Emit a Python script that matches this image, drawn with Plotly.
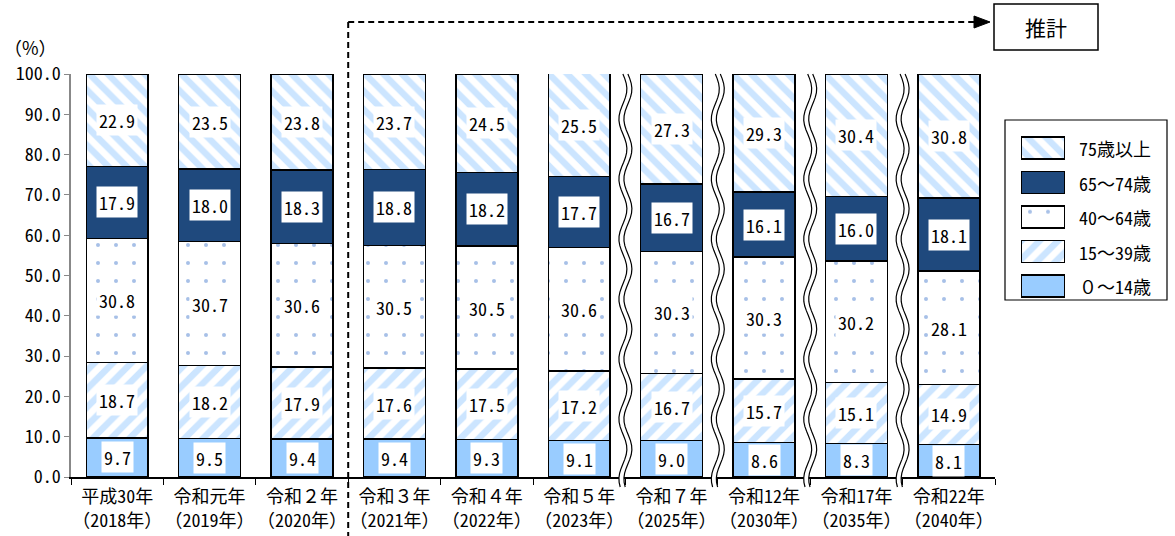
import numpy as np
import plotly.graph_objects as go

categories = ["平成30年<br>（2018年）", "令和元年<br>（2019年）", "令和２年<br>（2020年）",
              "令和３年<br>（2021年）", "令和４年<br>（2022年）", "令和５年<br>（2023年）",
              "令和７年<br>（2025年）", "令和12年<br>（2030年）", "令和17年<br>（2035年）",
              "令和22年<br>（2040年）"]
age_0_14 = [9.7, 9.5, 9.4, 9.4, 9.3, 9.1, 9.0, 8.6, 8.3, 8.1]
age_15_39 = [18.7, 18.2, 17.9, 17.6, 17.5, 17.2, 16.7, 15.7, 15.1, 14.9]
age_40_64 = [30.8, 30.7, 30.6, 30.5, 30.5, 30.6, 30.3, 30.3, 30.2, 28.1]
age_65_74 = [17.9, 18.0, 18.3, 18.8, 18.2, 17.7, 16.7, 16.1, 16.0, 18.1]
age_75p = [22.9, 23.5, 23.8, 23.7, 24.5, 25.5, 27.3, 29.3, 30.4, 30.8]
series_names = ["０～14歳", "15～39歳", "40～64歳", "65～74歳", "75歳以上"]
y_ticks = [0, 10, 20, 30, 40, 50, 60, 70, 80, 90, 100]

FONT = "Noto Sans Mono CJK JP, Noto Sans CJK JP, sans-serif"
LB = "#99CCFF"
NAVY = "#1F497D"

series = [age_0_14, age_15_39, age_40_64, age_65_74, age_75p]
styles = [
    dict(color=LB),
    dict(color="white", pattern=dict(shape="/", fgcolor=LB, bgcolor="white", size=13, solidity=0.5)),
    dict(color="white", pattern=dict(shape=".", fgcolor="#4F81D0", bgcolor="white", size=18, solidity=0.04)),
    dict(color=NAVY),
    dict(color="white", pattern=dict(shape="\\", fgcolor=LB, bgcolor="white", size=13, solidity=0.5)),
]

# pixel geometry
W, H = 1175, 536
L, R, T, B = 71, 3, 74, 59
pw, ph = W - L - R, H - T - B
PLOT_RIGHT = 995
def px(xp):
    return (xp - L) / pw
def py(yp):
    return (H - B - yp) / ph

fig = go.Figure()
for i, (name, vals, st) in enumerate(zip(series_names, series, styles)):
    marker = dict(line=dict(color="black", width=1.5), **st)
    fig.add_trace(go.Bar(x=categories, y=vals, name=name, marker=marker,
                         width=0.67, showlegend=False, xaxis="x", yaxis="y"))

# custom legend swatches (one small bar per series on a helper axis)
leg_order = series_names[::-1]
leg_styles = styles[::-1]
for name, st in zip(leg_order, leg_styles):
    marker = dict(line=dict(color="black", width=1.5), **st)
    fig.add_trace(go.Bar(y=[name], x=[1], orientation="h", marker=marker, width=0.64,
                         showlegend=False, xaxis="x2", yaxis="y2", hoverinfo="skip"))

# value labels
cum = np.zeros(len(categories))
annotations = []
for vals in series:
    v = np.array(vals)
    mids = cum + v / 2
    for c, m, val in zip(categories, mids, v):
        annotations.append(dict(x=c, y=m, xref="x", yref="y", text=f"{val:.1f}",
                                showarrow=False, bgcolor="white", borderpad=2,
                                font=dict(family=FONT, size=18, color="black")))
    cum = cum + v

n = len(categories)
xd1 = px(PLOT_RIGHT)
def catx(k):  # paper x of category boundary k
    return xd1 * k / n

shapes = []
# projection divider
xdiv = catx(3)
shapes.append(dict(type="line", xref="paper", yref="paper", x0=xdiv, x1=xdiv,
                   y0=py(22), y1=py(536), line=dict(color="black", width=2, dash="6px,4px")))
shapes.append(dict(type="line", xref="paper", yref="paper", x0=xdiv, x1=px(976),
                   y0=py(22), y1=py(22), line=dict(color="black", width=2, dash="6px,4px")))
shapes.append(dict(type="path", xref="paper", yref="paper",
                   path=f"M{px(974)},{py(16)} L{px(990)},{py(22)} L{px(974)},{py(28)} Z",
                   fillcolor="black", line=dict(color="black", width=1)))
shapes.append(dict(type="rect", xref="paper", yref="paper", x0=px(994), x1=px(1098),
                   y0=py(50), y1=py(4), line=dict(color="black", width=1.5), fillcolor="white"))
annotations.append(dict(x=(px(994) + px(1098)) / 2, y=(py(50) + py(4)) / 2, xref="paper", yref="paper",
                        xanchor="center", yanchor="middle",
                        text="推計", showarrow=False, font=dict(family=FONT, size=21, color="black")))
annotations.append(dict(x=px(30), y=py(47), xref="paper", yref="paper", text="（%）",
                        xanchor="center", yanchor="middle",
                        showarrow=False, font=dict(family="Noto Sans CJK JP, sans-serif", size=18, color="black")))

# legend frame and labels
shapes.append(dict(type="rect", xref="paper", yref="paper", x0=px(1005), x1=px(1167),
                   y0=py(300), y1=py(120), line=dict(color="black", width=1.2), fillcolor="rgba(0,0,0,0)"))
leg_top, leg_step = 148, 34.5
for j, name in enumerate(leg_order):
    annotations.append(dict(x=px(1077), y=py(leg_top + j * leg_step), xref="paper", yref="paper",
                            xanchor="left", yanchor="middle", text=name, showarrow=False,
                            font=dict(family=FONT, size=18, color="black")))

# wavy break marks
ys = np.linspace(74, 487, 90)
amp, sep, period = 4.0, 5.0, 60.0
for k in [6, 7, 8, 9]:
    xa = catx(k)
    off = amp * np.sin(2 * np.pi * (ys - 74) / period)
    l1 = off - sep / 2
    l2 = off + sep / 2
    p1 = " L".join(f"{a:.2f},{py(b):.5f}" for a, b in zip(l1, ys))
    p2 = " L".join(f"{a:.2f},{py(b):.5f}" for a, b in zip(l2[::-1], ys[::-1]))
    shapes.append(dict(type="path", xref="paper", yref="paper", xsizemode="pixel", xanchor=xa,
                       path=f"M{p1} L{p2} Z", fillcolor="white", line=dict(width=0)))
    for ln in (l1, l2):
        pp = " L".join(f"{a:.2f},{py(b):.5f}" for a, b in zip(ln, ys))
        shapes.append(dict(type="path", xref="paper", yref="paper", xsizemode="pixel", xanchor=xa,
                           path=f"M{pp}", line=dict(color="black", width=1.2)))

fig.update_layout(
    width=W, height=H, barmode="stack",
    margin=dict(l=L, r=R, t=T, b=B, pad=0),
    paper_bgcolor="white", plot_bgcolor="white",
    font=dict(family=FONT, size=17, color="black"),
    shapes=shapes, annotations=annotations, showlegend=False,
    xaxis=dict(domain=[0, xd1], range=[-0.5, n - 0.5], showline=True, linecolor="black", linewidth=1.5,
               ticks="outside", tickson="boundaries", ticklen=6, tickcolor="black", tickangle=0,
               ticklabelstandoff=3, showgrid=False, tickfont=dict(size=18)),
    yaxis=dict(range=[0, 100], tickvals=y_ticks, ticktext=[f"{t:.1f}" for t in y_ticks],
               showline=True, linecolor="#888888", linewidth=1.5, ticks="outside",
               ticklen=5, tickcolor="#888888", showgrid=False, zeroline=False,
               tickfont=dict(size=18)),
    xaxis2=dict(domain=[px(1021), px(1065)], range=[0, 1], anchor="y2", visible=False, fixedrange=True),
    yaxis2=dict(domain=[py(leg_top - leg_step / 2 + 5 * leg_step), py(leg_top - leg_step / 2)],
                range=[4.5, -0.5], anchor="x2", visible=False, type="category", fixedrange=True),
)

fig.write_html("out.html")
